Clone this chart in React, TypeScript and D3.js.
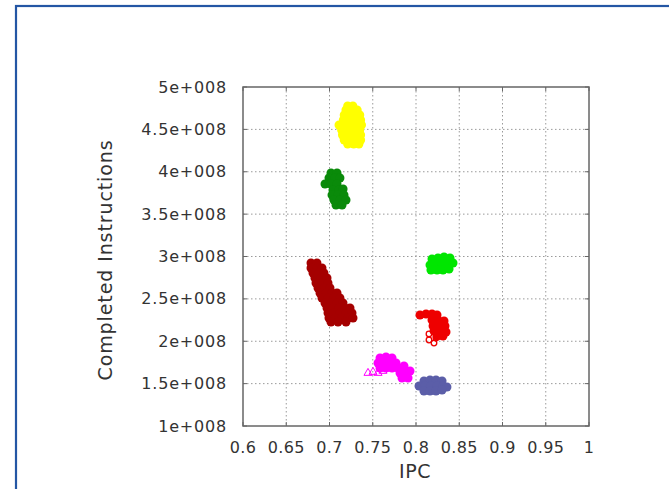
import React from "react";
import * as d3 from "d3";

// IPC vs Completed Instructions (instructions in units of 1e8)
const xTicks = [0.6, 0.65, 0.7, 0.75, 0.8, 0.85, 0.9, 0.95, 1];
const yTicks = [1, 1.5, 2, 2.5, 3, 3.5, 4, 4.5, 5];

const yellowPts: [number, number][] = [
  [0.721, 4.776], [0.727, 4.776],
  [0.719, 4.729], [0.726, 4.729], [0.732, 4.729],
  [0.717, 4.67], [0.724, 4.67], [0.731, 4.67], [0.735, 4.67],
  [0.716, 4.611], [0.722, 4.611], [0.73, 4.611], [0.736, 4.611],
  [0.711, 4.552], [0.717, 4.552], [0.724, 4.552], [0.731, 4.552], [0.737, 4.552],
  [0.714, 4.493], [0.721, 4.493], [0.728, 4.493], [0.735, 4.493],
  [0.715, 4.434], [0.722, 4.434], [0.729, 4.434], [0.736, 4.434],
  [0.717, 4.375], [0.724, 4.375], [0.731, 4.375], [0.736, 4.375],
  [0.721, 4.327], [0.728, 4.327], [0.734, 4.327],
];

const darkGreenPts: [number, number][] = [
  [0.7017, 3.985], [0.7087, 3.985],
  [0.6994, 3.926], [0.7064, 3.926], [0.7121, 3.926],
  [0.6948, 3.855], [0.7017, 3.855], [0.7087, 3.855],
  [0.704, 3.785], [0.711, 3.785], [0.7157, 3.797],
  [0.7029, 3.726], [0.7098, 3.726], [0.7168, 3.726],
  [0.7052, 3.667], [0.7121, 3.667], [0.7191, 3.667],
  [0.7075, 3.608], [0.7145, 3.608],
];

const limePts: [number, number][] = [
  [0.8185, 2.97], [0.8254, 2.982], [0.8324, 2.994], [0.8393, 2.982],
  [0.8162, 2.9], [0.8231, 2.912], [0.8301, 2.912], [0.837, 2.912], [0.8428, 2.923],
  [0.8173, 2.841], [0.8243, 2.841], [0.8312, 2.841], [0.8382, 2.853],
];

const darkRedPts: [number, number][] = [
  [0.6786, 2.923], [0.6855, 2.923],
  [0.6786, 2.864], [0.6855, 2.864], [0.6913, 2.864],
  [0.6809, 2.805], [0.6879, 2.805], [0.6936, 2.805],
  [0.6832, 2.746], [0.6902, 2.746], [0.6971, 2.746],
  [0.6844, 2.687], [0.6913, 2.687], [0.6983, 2.687],
  [0.6867, 2.628], [0.6936, 2.628], [0.7006, 2.628],
  [0.689, 2.569], [0.696, 2.569], [0.7029, 2.569], [0.7087, 2.569],
  [0.6913, 2.51], [0.6983, 2.51], [0.7052, 2.51], [0.7121, 2.51],
  [0.6948, 2.451], [0.7017, 2.451], [0.7087, 2.451], [0.7156, 2.451],
  [0.6971, 2.392], [0.704, 2.392], [0.711, 2.392], [0.7179, 2.392], [0.7237, 2.392],
  [0.6983, 2.333], [0.7052, 2.333], [0.7121, 2.333], [0.7191, 2.333], [0.726, 2.333],
  [0.6994, 2.274], [0.7064, 2.274], [0.7145, 2.274], [0.7214, 2.274], [0.7272, 2.274],
  [0.7017, 2.227], [0.7098, 2.227], [0.7191, 2.227],
];

const redPts: [number, number][] = [
  [0.8046, 2.31], [0.8116, 2.322], [0.8185, 2.322], [0.8243, 2.31],
  [0.8185, 2.251], [0.8254, 2.251], [0.8324, 2.239],
  [0.8197, 2.18], [0.8266, 2.18], [0.8335, 2.18],
  [0.8208, 2.121], [0.8277, 2.121], [0.8347, 2.109],
  [0.8243, 2.062], [0.8312, 2.062],
];

const redOpenPts: [number, number][] = [
  [0.815, 2.086], [0.815, 2.015], [0.8208, 1.979], [0.8231, 2.038],
];

const magentaPts: [number, number][] = [
  [0.7584, 1.802], [0.7653, 1.814], [0.7723, 1.802],
  [0.7561, 1.743], [0.763, 1.743], [0.7699, 1.743], [0.7769, 1.743],
  [0.7584, 1.684], [0.7653, 1.684], [0.7723, 1.684], [0.7792, 1.684], [0.7861, 1.708],
  [0.7815, 1.625], [0.7884, 1.637], [0.7931, 1.649],
  [0.7838, 1.566], [0.7908, 1.566],
];

const magentaOpenPts: [number, number][] = [
  [0.7445, 1.625], [0.7503, 1.637], [0.7561, 1.625], [0.7618, 1.649],
];

const bluePts: [number, number][] = [
  [0.8092, 1.531], [0.8162, 1.543], [0.8231, 1.543], [0.8301, 1.531],
  [0.8035, 1.472], [0.8104, 1.472], [0.8173, 1.472], [0.8243, 1.472], [0.8312, 1.472], [0.8358, 1.46],
  [0.8092, 1.413], [0.8162, 1.413], [0.8231, 1.413], [0.8301, 1.425],
];

const filledSeries = [
  { pts: yellowPts, color: "#ffff00" },
  { pts: darkGreenPts, color: "#0a8a0a" },
  { pts: limePts, color: "#00e600" },
  { pts: darkRedPts, color: "#a50000" },
  { pts: redPts, color: "#ee0000" },
  { pts: magentaPts, color: "#ff00ff" },
  { pts: bluePts, color: "#5b5ea8" },
];

const W = 669;
const H = 489;
const left = 243, right = 589, top = 87, bottom = 426;

export default function App() {
  const x = d3.scaleLinear().domain([0.6, 1]).range([left, right]);
  const y = d3.scaleLinear().domain([1, 5]).range([bottom, top]);
  const fmtX = (v: number) => d3.format("~g")(v);
  const fmtY = (v: number) => `${d3.format("~g")(v)}e+008`;
  const tri = d3.symbol().type(d3.symbolTriangle).size(28)() as string;
  const font = "'DejaVu Sans', sans-serif";

  return (
    <svg width={W} height={H} style={{ position: "absolute", left: 0, top: 0, background: "#fff" }}>
      <rect x={16} y={6} width={W} height={H} fill="none" stroke="#2456a4" strokeWidth={2.2} />
      {/* grid */}
      <g stroke="#9a9a9a" strokeWidth={1} strokeDasharray="1.5,2.5">
        {xTicks.slice(1, -1).map((t) => (
          <line key={"gx" + t} x1={x(t)} x2={x(t)} y1={top} y2={bottom} />
        ))}
        {yTicks.slice(1, -1).map((t) => (
          <line key={"gy" + t} x1={left} x2={right} y1={y(t)} y2={y(t)} />
        ))}
      </g>
      {/* ticks */}
      <g stroke="#666" strokeWidth={1}>
        {xTicks.map((t) => (
          <g key={"tx" + t}>
            <line x1={x(t)} x2={x(t)} y1={bottom} y2={bottom - 4} />
            <line x1={x(t)} x2={x(t)} y1={top} y2={top + 4} />
          </g>
        ))}
        {yTicks.map((t) => (
          <g key={"ty" + t}>
            <line x1={left} x2={left + 4} y1={y(t)} y2={y(t)} />
            <line x1={right} x2={right - 4} y1={y(t)} y2={y(t)} />
          </g>
        ))}
      </g>
      {/* points */}
      {filledSeries.map((s, i) => (
        <g key={"s" + i} fill={s.color}>
          {s.pts.map((p, j) => (
            <circle key={j} cx={x(p[0])} cy={y(p[1])} r={4.5} />
          ))}
        </g>
      ))}
      <g fill="none" stroke="#ee0000" strokeWidth={1.3}>
        {redOpenPts.map((p, j) => (
          <circle key={j} cx={x(p[0])} cy={y(p[1])} r={2.8} />
        ))}
      </g>
      <g fill="none" stroke="#ff00ff" strokeWidth={1}>
        {magentaOpenPts.map((p, j) => (
          <path key={j} d={tri} transform={`translate(${x(p[0])},${y(p[1])})`} />
        ))}
      </g>
      {/* frame */}
      <rect x={left} y={top} width={right - left} height={bottom - top} fill="none" stroke="#666" strokeWidth={1.5} />
      {/* tick labels */}
      <g fontFamily={font} fontSize={16} fill="#333">
        {xTicks.map((t) => (
          <text key={"lx" + t} x={x(t)} y={453} textAnchor="middle" letterSpacing={0.4}>
            {fmtX(t)}
          </text>
        ))}
        {yTicks.map((t) => (
          <text key={"ly" + t} x={227} y={y(t) + 5.5} textAnchor="end" letterSpacing={0.8}>
            {fmtY(t)}
          </text>
        ))}
      </g>
      <text x={415} y={478} textAnchor="middle" fontFamily={font} fontSize={19} fill="#333" letterSpacing={0.5}>
        IPC
      </text>
      <text
        transform={`translate(112,260) rotate(-90)`}
        textAnchor="middle"
        fontFamily={font}
        fontSize={19}
        fill="#333"
        letterSpacing={0.9}
      >
        Completed Instructions
      </text>
    </svg>
  );
}
